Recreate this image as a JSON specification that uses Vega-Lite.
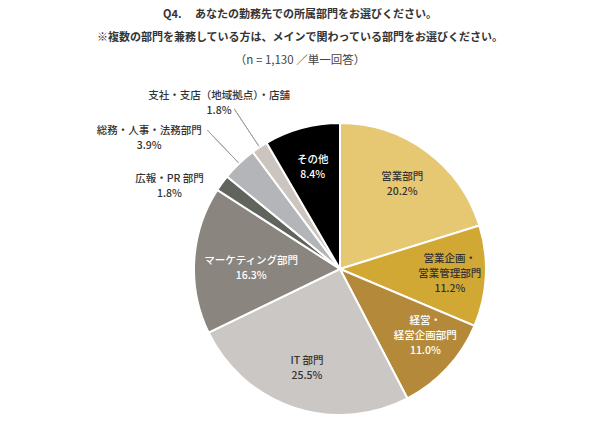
{
  "$schema": "https://vega.github.io/schema/vega-lite/v6.json",
  "width": 520,
  "height": 300,
  "padding": {"left": 80, "top": 8, "right": 0, "bottom": 0},
  "background": "white",
  "title": {
    "text": ["Q4.　  あなたの勤務先での所属部門をお選びください。", "※複数の部門を兼務している方は、メインで関わっている部門をお選びください。"],
    "subtitle": "（n = 1,130 ／単一回答）",
    "anchor": "middle",
    "dx": -40,
    "font": "Noto Sans CJK JP",
    "fontSize": 11,
    "fontWeight": "bold",
    "lineHeight": 23,
    "color": "#333333",
    "subtitleFont": "Noto Sans CJK JP",
    "subtitleFontSize": 11.5,
    "subtitleColor": "#444444",
    "subtitlePadding": 12,
    "offset": 0
  },
  "config": {"view": {"stroke": null}},
  "data": {
    "values": [
      {"idx": 1, "category": "営業部門", "value": 20.2, "label": "営業部門\n20.2%"},
      {"idx": 2, "category": "営業企画・営業管理部門", "value": 11.2, "label": "営業企画・\n営業管理部門\n11.2%"},
      {"idx": 3, "category": "経営・経営企画部門", "value": 11.0, "label": "経営・\n経営企画部門\n11.0%"},
      {"idx": 4, "category": "IT部門", "value": 25.5, "label": "IT 部門\n25.5%"},
      {"idx": 5, "category": "マーケティング部門", "value": 16.3, "label": "マーケティング部門\n16.3%"},
      {"idx": 6, "category": "広報・PR部門", "value": 1.8, "label": "広報・PR 部門\n1.8%"},
      {"idx": 7, "category": "総務・人事・法務部門", "value": 3.9, "label": "総務・人事・法務部門\n3.9%"},
      {"idx": 8, "category": "支社・支店（地域拠点）・店舗", "value": 1.8, "label": "支社・支店（地域拠点）・店舗\n1.8%"},
      {"idx": 9, "category": "その他", "value": 8.4, "label": "その他\n8.4%"}
    ]
  },
  "encoding": {
    "theta": {"field": "value", "type": "quantitative", "stack": true},
    "order": {"field": "idx", "type": "quantitative"}
  },
  "layer": [
    {
      "mark": {"type": "arc", "radius": 146, "stroke": "white", "strokeWidth": 2},
      "encoding": {
        "color": {
          "field": "category",
          "type": "nominal",
          "legend": null,
          "scale": {
            "domain": ["営業部門", "営業企画・営業管理部門", "経営・経営企画部門", "IT部門", "マーケティング部門", "広報・PR部門", "総務・人事・法務部門", "支社・支店（地域拠点）・店舗", "その他"],
            "range": ["#E6C872", "#D2A835", "#B48A3A", "#CBC7C4", "#8A857F", "#60645C", "#B3B5B9", "#CCC5BF", "#000000"]
          }
        }
      }
    },
    {
      "mark": {"type": "arc", "radius": 192, "radius2": 147, "padAngle": 0.5, "fill": "transparent", "strokeWidth": 1},
      "encoding": {
        "stroke": {
          "condition": {"test": "indexof(['総務・人事・法務部門','支社・支店（地域拠点）・店舗'], datum.category) >= 0", "value": "#A0A0A0"},
          "value": "transparent"
        }
      }
    },
    {
      "mark": {"type": "text", "radius": 105, "dy": -7.5, "font": "Noto Sans CJK JP", "fontSize": 10.5, "fontWeight": 500, "lineBreak": "\n", "lineHeight": 15, "align": "center", "baseline": "middle"},
      "encoding": {
        "text": {
          "field": "label",
          "condition": {"test": "indexof(['営業部門','IT部門','その他'], datum.category) < 0", "value": ""}
        },
        "color": {
          "condition": {"test": "datum.category == 'その他'", "value": "#FFFFFF"},
          "value": "#333333"
        }
      }
    },
    {
      "mark": {"type": "text", "radius": 108, "dx": 2, "dy": -15, "font": "Noto Sans CJK JP", "fontSize": 10.5, "fontWeight": 500, "lineBreak": "\n", "lineHeight": 15, "align": "center", "baseline": "middle", "color": "#333333"},
      "encoding": {
        "text": {"field": "label", "condition": {"test": "datum.category != '営業企画・営業管理部門'", "value": ""}}
      }
    },
    {
      "mark": {"type": "text", "radius": 108, "dx": 6, "dy": -21, "font": "Noto Sans CJK JP", "fontSize": 10.5, "fontWeight": 500, "lineBreak": "\n", "lineHeight": 15, "align": "center", "baseline": "middle", "color": "#FFFFFF"},
      "encoding": {
        "text": {"field": "label", "condition": {"test": "datum.category != '経営・経営企画部門'", "value": ""}}
      }
    },
    {
      "mark": {"type": "text", "radius": 92, "dx": 3, "dy": -2, "font": "Noto Sans CJK JP", "fontSize": 10.5, "fontWeight": 500, "lineBreak": "\n", "lineHeight": 15, "align": "center", "baseline": "middle", "color": "#FFFFFF"},
      "encoding": {
        "text": {"field": "label", "condition": {"test": "datum.category != 'マーケティング部門'", "value": ""}}
      }
    },
    {
      "mark": {"type": "text", "radius": 185, "dx": -21, "dy": 19, "font": "Noto Sans CJK JP", "fontSize": 10.5, "fontWeight": 500, "lineBreak": "\n", "lineHeight": 15, "align": "center", "baseline": "middle", "color": "#333333"},
      "encoding": {
        "text": {"field": "label", "condition": {"test": "datum.category != '広報・PR部門'", "value": ""}}
      }
    },
    {
      "mark": {"type": "text", "radius": 185, "dx": -63, "dy": -4, "font": "Noto Sans CJK JP", "fontSize": 10.5, "fontWeight": 500, "lineBreak": "\n", "lineHeight": 15, "align": "center", "baseline": "middle", "color": "#333333"},
      "encoding": {
        "text": {"field": "label", "condition": {"test": "datum.category != '総務・人事・法務部門'", "value": ""}}
      }
    },
    {
      "mark": {"type": "text", "radius": 185, "dx": -19, "dy": -19, "font": "Noto Sans CJK JP", "fontSize": 10.5, "fontWeight": 500, "lineBreak": "\n", "lineHeight": 15, "align": "center", "baseline": "middle", "color": "#333333"},
      "encoding": {
        "text": {"field": "label", "condition": {"test": "datum.category != '支社・支店（地域拠点）・店舗'", "value": ""}}
      }
    }
  ]
}
